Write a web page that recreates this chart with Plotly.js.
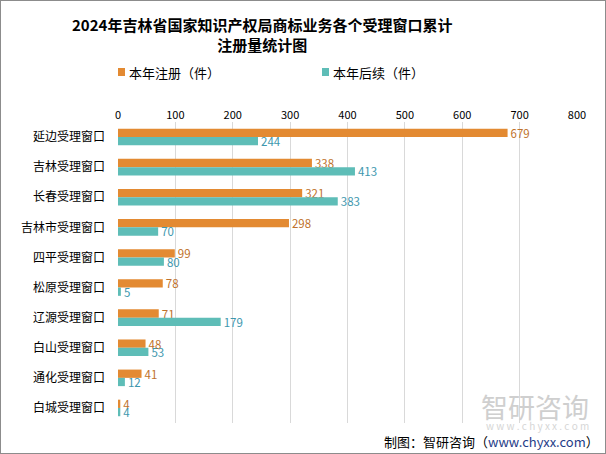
<!DOCTYPE html>
<html>
<head>
<meta charset="utf-8">
<script src="https://cdn.plot.ly/plotly-3.0.1.min.js"></script>
<style>
html,body{margin:0;padding:0;background:#fff;}
#chart{width:604px;height:452px;border:1px solid #8c8c8c;}
</style>
</head>
<body>
<div id="chart"></div>
<script>
const categories = ["延边受理窗口","吉林受理窗口","长春受理窗口","吉林市受理窗口","四平受理窗口","松原受理窗口","辽源受理窗口","白山受理窗口","通化受理窗口","白城受理窗口"];
const registrations = [679, 338, 321, 298, 99, 78, 71, 48, 41, 4];
const renewals = [244, 413, 383, 70, 80, 5, 179, 53, 12, 4];
const tickValues = [0, 100, 200, 300, 400, 500, 600, 700, 800];
const seriesNames = ['本年注册（件）', '本年后续（件）'];
const seriesColors = ['#E38A32', '#5EBDB7'];

const font = "'Noto Sans CJK SC', 'Noto Sans', sans-serif";

// page pixel -> paper coordinate helpers (plot area: x 118..577, y 122..423)
const PL = 118, PR = 577, PT = 122, PB = 423;
const px = X => (X - PL) / (PR - PL);
const py = Y => (PB - Y) / (PB - PT);

const traces = [
  {
    type: 'bar', orientation: 'h', name: seriesNames[0],
    y: categories, x: registrations,
    marker: {color: seriesColors[0]},
    text: registrations.map(String), textposition: 'outside', cliponaxis: false,
    constraintext: 'none',
    textfont: {color: '#C0722C', size: 11.5, family: font}
  },
  {
    type: 'bar', orientation: 'h', name: seriesNames[1],
    y: categories, x: renewals,
    marker: {color: seriesColors[1]},
    text: renewals.map(String), textposition: 'outside', cliponaxis: false,
    constraintext: 'none',
    textfont: {color: '#3E97AE', size: 11.5, family: font}
  }
];

const layout = {
  width: 604, height: 452,
  margin: {l: 117, r: 28, t: 121, b: 30},
  paper_bgcolor: '#fff', plot_bgcolor: '#fff',
  font: {family: font, color: '#000'},
  barmode: 'group', bargap: 0.45, bargroupgap: 0,
  showlegend: false,
  xaxis: {
    side: 'top', range: [0, 800], tickvals: tickValues,
    showgrid: true, gridcolor: '#D9D9D9', gridwidth: 1,
    zeroline: false, showline: false, ticks: '',
    tickfont: {size: 11, family: font, color: '#000'}
  },
  yaxis: {
    autorange: 'reversed', showgrid: false, showline: false, ticks: '',
    tickfont: {size: 12, family: font, color: '#000'}, ticklabelstandoff: 12
  },
  shapes: [
    {type: 'rect', xref: 'paper', yref: 'paper', x0: px(118), x1: px(125), y0: py(76), y1: py(68),
     fillcolor: seriesColors[0], line: {width: 0}},
    {type: 'rect', xref: 'paper', yref: 'paper', x0: px(322), x1: px(329), y0: py(76), y1: py(68),
     fillcolor: seriesColors[1], line: {width: 0}}
  ],
  annotations: [
    {xref: 'paper', yref: 'paper', x: px(262), y: py(34), xanchor: 'center', yanchor: 'middle',
     text: '<b>2024年吉林省国家知识产权局商标业务各个受理窗口累计<br>注册量统计图</b>', showarrow: false,
     font: {size: 15, color: '#000', family: font}},
    {xref: 'paper', yref: 'paper', x: px(127), y: py(72), xanchor: 'left', yanchor: 'middle',
     text: seriesNames[0], showarrow: false, font: {size: 13, color: '#000', family: font}},
    {xref: 'paper', yref: 'paper', x: px(331), y: py(72), xanchor: 'left', yanchor: 'middle',
     text: seriesNames[1], showarrow: false, font: {size: 13, color: '#000', family: font}},
    {xref: 'paper', yref: 'paper', x: px(591), y: py(406), xanchor: 'right', yanchor: 'middle',
     text: '智研咨询', showarrow: false, font: {size: 27, color: '#CFCFCF', family: font}},
    {xref: 'paper', yref: 'paper', x: px(591), y: py(425), xanchor: 'right', yanchor: 'middle',
     text: 'w w w . c h y x x . c o m', showarrow: false, font: {size: 10, color: '#D6D6D6', family: font}},
    {xref: 'paper', yref: 'paper', x: px(601), y: py(441), xanchor: 'right', yanchor: 'middle',
     text: '制图：智研咨询（<span style="color:#1F3C88">www.chyxx.com</span>）', showarrow: false,
     font: {size: 13, color: '#000', family: font}}
  ]
};

Plotly.newPlot('chart', traces, layout, {displayModeBar: false, staticPlot: true});
</script>
</body>
</html>
